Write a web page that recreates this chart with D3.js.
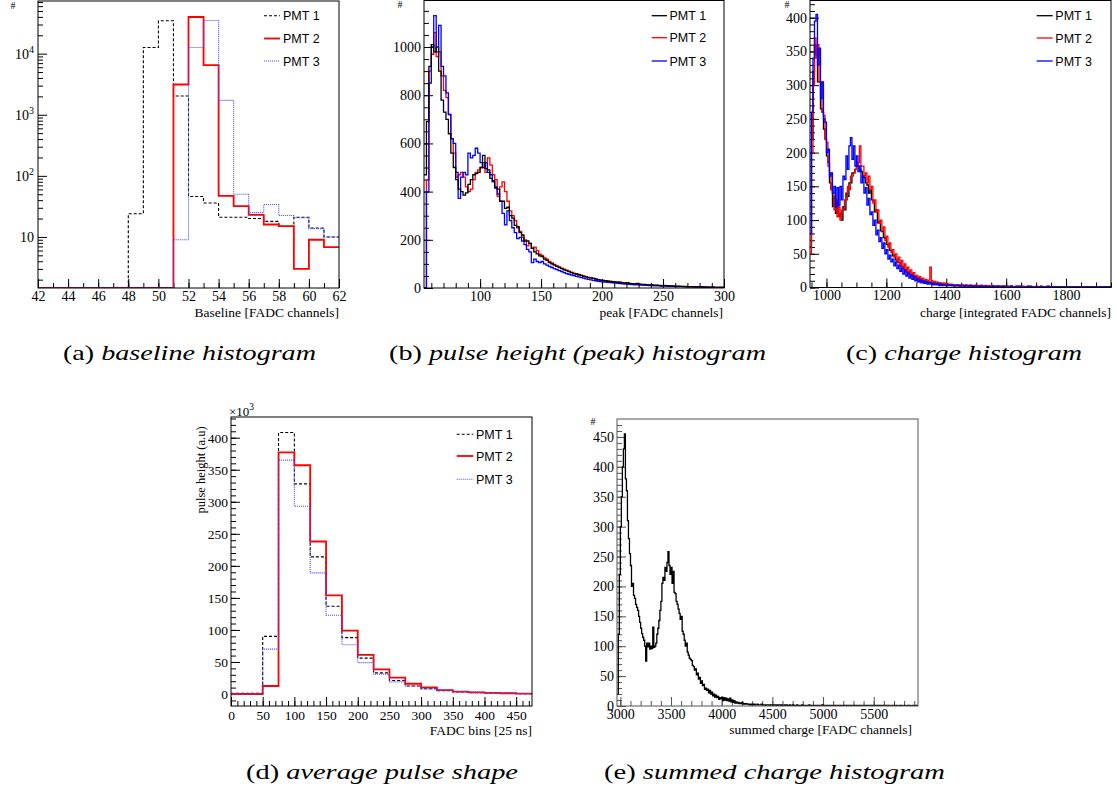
<!DOCTYPE html>
<html><head><meta charset="utf-8">
<script src="https://cdn.jsdelivr.net/npm/d3@7"></script>
<style>body{margin:0;background:#fff} svg{display:block}</style>
</head><body>
<svg id="c" width="1116" height="791"></svg>
<script>
// ---------------- DATA ----------------
const seriesNames = ["PMT 1", "PMT 2", "PMT 3"];

// (a) baseline histogram: bins 42..62, width 1 (log y)
const baseStart = 42, baseWidth = 1;
const basePMT1 = [0,0,0,0,0,0,24,12600,34500,2030,46,36,21,21,20,18,15,21,14,10];
const basePMT2 = [0,0,0,0,0,0,0,0,0,3130,39800,6500,47,32,23,16,15,3,9,6.8];
const basePMT3 = [0,0,0,0,0,0,0,0,0,9,12600,35000,1720,50,25,34,22.5,20.6,13.7,10];

// (b) pulse height (peak) histogram: bins from 54, width 2
const peakStart = 54, peakWidth = 2;
const peakPMT1 = [470,690,920,1010,980,1000,900,780,730,700,
  640,560,500,450,410,400,385,395,430,450,
  470,475,480,500,550,495,490,455,445,415,
  410,360,360,330,335,300,290,260,255,230,
  220,195,195,185,165,150,142,133,130,120,
  115,105,100,95,90,85,80,75,72,68,
  64,60,58,55,52,48,46,43,42,40,
  38,35,33,32,30,28,27,26,25,24,
  22,21,20,22,19,18,17,19,16,15,
  15,14,13,13,12,12,11,10,11,10,
  9,9,8,8,8,7,7,7,6,6,
  6,5,5,5,5,4,4,4,4,3,
  3,3,3];
const peakPMT2 = [0,450,900,970,1060,960,980,880,820,790,
  720,620,560,460,470,480,460,420,400,410,
  450,480,490,500,520,480,540,510,470,450,
  380,420,440,400,360,320,300,280,250,235,
  210,200,175,185,165,170,155,140,135,125,
  120,110,104,98,92,88,82,78,74,70,
  66,62,58,56,52,50,47,44,42,40,
  36,34,33,31,30,28,27,25,24,23,
  25,22,20,19,18,17,16,15,15,14,
  14,13,12,12,11,11,10,10,9,9,
  9,8,8,7,7,7,6,6,6,6,
  5,5,5,5,4,4,4,4,4,3,
  3,3,3];
const peakPMT3 = [0,400,850,1000,1130,980,1090,920,880,810,
  720,620,600,480,372,460,480,470,560,540,
  550,580,560,520,500,520,480,470,440,420,
  390,360,310,262,320,280,250,230,205,210,
  195,180,160,150,105,120,110,105,110,100,
  95,90,85,80,76,72,68,64,60,57,
  54,51,48,46,43,41,38,36,34,32,
  30,28,27,25,24,23,22,21,20,19,
  18,17,16,15,15,14,13,13,12,12,
  11,11,10,10,9,9,9,8,8,8,
  7,7,7,6,6,6,6,5,5,5,
  5,4,4,4,4,4,3,3,3,3,
  3,2,2];

// (c) charge histogram: bins from 945, width 5
const chargeStart = 945, chargeWidth = 5;
const chargePMT1 = [60,220,320,360,345,305,305,265,260,235,
  220,195,185,155,145,120,135,110,125,105,
  110,100,120,115,140,135,155,155,170,170,
  175,180,180,175,172,165,163,155,152,140,
  145,130,128,112,115,96,98,84,83,74,
  73,64,63,55,55,47,48,41,41,37,
  36,31,31,26,27,22,23,18,20,16,
  16,13,14,11,12,9,10,8,9,7,
  8,6,7,5,6,5,6,4,5,4,
  5,4,
  4,4,3,4,3,3,4,3,3,3, 3,2,3,3,2,3,2,2,3,2, 2,2,3,2,2,2,1,2,2,2, 1,2,2,1,2,1,2,1,1,2,
  1,1,2,1,1,1,2,1,1,1, 1,1,1,2,1,1,1,1,1,1, 1,1,2,1,1,1,1,0,1,1, 1,1,1,1,1,0,1,1,1,1,
  0,1,1,1,1,1,0,1,1,0, 1,1,1,1,0,1,1,1,0,1, 1,0,1,1,1,0,1,1,1];
const chargePMT2 = [50,200,300,370,340,360,305,305,260,255,
  220,215,180,170,145,140,115,130,105,120,
  100,115,115,130,130,150,145,165,165,170,
  175,180,185,210,180,180,165,170,155,165,
  145,150,125,130,112,115,95,100,84,90,
  70,76,60,66,52,56,45,50,38,45,
  32,40,28,35,24,30,20,26,16,22,
  13,18,11,16,9,14,8,12,8,11,
  30,10,6,9,5,8,5,7,4,7,
  4,6,
  5,4,5,4,4,3,4,4,3,4, 3,3,4,3,3,3,2,3,3,2, 3,2,3,2,2,3,2,2,2,3, 2,2,1,2,2,2,1,2,2,1,
  2,1,2,1,1,2,1,2,1,1, 2,1,1,1,2,1,1,1,1,2, 1,1,1,1,1,1,2,1,1,1, 1,1,1,1,0,1,1,1,1,1,
  1,0,1,1,1,1,0,1,1,1, 0,1,1,1,1,0,1,1,0,1, 1,1,0,1,1,0,1,1,1];
const chargePMT3 = [80,260,340,395,405,330,355,280,305,250,
  245,200,205,165,170,140,150,118,148,122,
  150,130,165,160,195,175,210,222,190,210,
  180,195,172,180,155,165,140,148,122,132,
  108,112,92,100,78,85,68,74,58,66,
  50,56,42,48,38,42,32,38,28,33,
  24,29,20,26,17,22,14,19,12,17,
  10,14,8,12,7,10,6,9,5,8,
  5,7,4,6,4,6,3,5,3,4,
  3,4,
  3,4,3,3,2,3,3,2,3,2, 2,3,2,2,2,3,2,2,1,2, 2,1,2,2,1,2,1,2,1,1, 2,1,1,2,1,1,1,2,1,1,
  1,1,2,1,1,1,1,1,2,1, 1,1,1,1,1,2,1,1,1,1, 1,1,1,1,1,1,1,2,1,1, 1,1,1,0,1,1,1,1,1,1,
  0,1,1,1,0,1,1,1,1,0, 1,1,0,1,1,1,0,1,1,1, 0,1,1,0,1,1,1,0,1];

// (d) average pulse shape: bins 0..475, width 25 (values x10^3)
const shapeStart = 0, shapeWidth = 25;
const shapePMT1 = [1,1,90,408,328,214,137,88,56,33,21,12.5,8.3,5.2,3.1,2,1.5,1,0.5];
const shapePMT2 = [0,0,12.5,377,357,238,154,99,61,38.5,25.5,16,10.4,6.2,3.6,2.5,1.8,1.2,0.6];
const shapePMT3 = [0,0,70,365,293,189,123,77,49,31,19,12.5,8,6,4,3,2,1.2,0.7];

// (e) summed charge histogram: bins from 2970, width 10
const sumStart = 2970, sumWidth = 10;
const sumCharge = [20,120,220,300,350,400,430,455,380,360,
  310,280,255,235,200,205,185,180,170,165,
  160,150,140,130,121,115,110,100,75,105,
  99,105,95,100,96,132,98,100,105,120,
  130,143,160,175,205,215,210,232,225,240,
  258,235,220,232,205,225,190,188,175,170,
  162,155,145,150,125,120,110,100,105,90,
  85,80,78,76,68,66,60,62,52,55,
  45,48,38,42,34,36,28,30,26,28,
  22,26,20,23,17,20,15,18,14,16,
  11,14,12,15,9,14,10,13,9,12,
  8,13,7,10,6,9,5,7,5,6,
  4,5,4,6,3,4,3,4,3,3,
  2,3,2,3,
  2,3,2,2,3,2,2,2,3,2, 2,2,1,2,2,2,1,2,2,1, 2,2,1,2,1,2,2,1,2,1, 1,2,1,2,1,1,2,1,1,2,
  1,1,1,2,1,1,1,1,2,1, 1,1,1,1,1,2,1,1,1,1, 1,1,1,1,1,1,1,1,2,1, 1,1,1,0,1,1,1,1,1,1,
  0,1,1,1,1,0,1,1,1,0, 1,1,1,0,1,1,0,1,1,1, 0,1,0,1,1,0,1,1,0,1, 0,1,1,0,1,0,1,1,0,1,
  0,1,0,1,0,1,1,0,1,0, 1,0,1,0,1,0,0,1,0,1, 0,1,0,0,1,0,1,0,0,1, 0,0,1,0,1,0,0,1,0,0,
  1,0,1];

// axis tick values
const baseTicks = [42,44,46,48,50,52,54,56,58,60,62];
const peakTicksX = [100,150,200,250,300];
const peakTicksY = [0,200,400,600,800,1000];
const chargeTicksX = [1000,1200,1400,1600,1800];
const chargeTicksY = [0,50,100,150,200,250,300,350,400];
const shapeTicksX = [0,50,100,150,200,250,300,350,400,450];
const shapeTicksY = [0,50,100,150,200,250,300,350,400];
const sumTicksX = [3000,3500,4000,4500,5000,5500];
const sumTicksY = [0,50,100,150,200,250,300,350,400,450];

const captions = [
  {lab:"(a) ", txt:"baseline histogram"},
  {lab:"(b) ", txt:"pulse height (peak) histogram"},
  {lab:"(c) ", txt:"charge histogram"},
  {lab:"(d) ", txt:"average pulse shape"},
  {lab:"(e) ", txt:"summed charge histogram"}
];

// ---------------- DRAWING ----------------
const svg = d3.select('#c');
const SERIF = "Liberation Serif";
const SANS = "Liberation Sans";
let clipId = 0;

function range(a, b, s) { return d3.range(a, b + s * 0.001, s); }

function panel(o) {
  const g = svg.append('g');
  const fs = o.tickFont || 14;
  const x = d3.scaleLinear().domain(o.xDomain).range([o.left, o.right]);
  const y = o.yLog
    ? d3.scaleLog().domain(o.yDomain).range([o.bottom, o.top])
    : d3.scaleLinear().domain(o.yDomain).range([o.bottom, o.top]);

  const ax = g.append('g').attr('transform', `translate(0,${o.bottom})`);
  ax.call(d3.axisBottom(x).tickValues(o.xMinor).tickSizeInner(-5).tickSizeOuter(0).tickFormat(''));
  const axM = g.append('g').attr('transform', `translate(0,${o.bottom})`);
  axM.call(d3.axisBottom(x).tickValues(o.xMajor).tickSizeInner(-9).tickSizeOuter(0)
    .tickPadding(o.xPad || 3).tickFormat(o.xFmt || d3.format('d')));
  const ay = g.append('g').attr('transform', `translate(${o.left},0)`);
  ay.call(d3.axisLeft(y).tickValues(o.yMinor).tickSizeInner(-5).tickSizeOuter(0).tickFormat(''));
  const ayM = g.append('g').attr('transform', `translate(${o.left},0)`);
  ayM.call(d3.axisLeft(y).tickValues(o.yMajor).tickSizeInner(-9).tickSizeOuter(0)
    .tickPadding(3).tickFormat(o.yLog ? () => '' : (o.yFmt || d3.format('d'))));
  [ax, axM, ay, ayM].forEach(a => {
    a.attr('font-family', SERIF).attr('font-size', fs);
    a.select('.domain').remove();
    a.selectAll('line').attr('stroke', o.frameColor || '#000').attr('stroke-width', 1);
    a.selectAll('text').style('font-family', SERIF).style('font-size', fs + 'px').attr('fill', '#000');
  });

  if (o.yLog) {
    o.yMajor.forEach(v => {
      const e = Math.round(Math.log10(v));
      const t = g.append('text').attr('x', o.left - 4).attr('y', y(v) + 5)
        .attr('text-anchor', 'end').style('font-family', SERIF).style('font-size', '14px');
      t.append('tspan').text('10');
      if (e > 1) t.append('tspan').attr('dy', -6).style('font-size', '10px').text(e);
    });
  }

  const cid = 'clip' + (clipId++);
  g.append('clipPath').attr('id', cid).append('rect')
    .attr('x', o.left).attr('y', o.top - 1).attr('width', o.right - o.left).attr('height', o.bottom - o.top + 1);
  const yv = v => o.yLog ? (v > 0 ? y(Math.max(v, o.yDomain[0])) : o.bottom) : y(v);
  const line = d3.line().x(d => x(d[0])).y(d => yv(d[1])).curve(d3.curveStepAfter);
  o.series.forEach(s => {
    const pts = s.values.map((v, i) => [s.start + i * s.width, v]);
    pts.push([s.start + s.values.length * s.width, s.values[s.values.length - 1]]);
    g.append('path').attr('clip-path', `url(#${cid})`).attr('d', line(pts))
      .attr('fill', 'none').attr('stroke', s.color).attr('stroke-width', s.sw || 1.2)
      .attr('stroke-dasharray', s.dash || null).attr('stroke-linejoin', 'miter');
  });

  g.append('rect').attr('x', o.left).attr('y', o.top).attr('width', o.right - o.left)
    .attr('height', o.bottom - o.top).attr('fill', 'none')
    .attr('stroke', o.frameColor || '#000').attr('stroke-width', 1);

  g.append('text').attr('x', o.xTitleRight).attr('y', o.xTitleY).attr('text-anchor', 'end')
    .style('font-family', SERIF).style('font-size', '13.5px').text(o.xTitle);
  if (o.hash) g.append('text').attr('x', o.hash[0]).attr('y', o.hash[1]).attr('text-anchor', 'middle')
    .style('font-family', SERIF).style('font-size', '10px').text('#');

  if (o.legend) {
    o.series.slice().sort((a, b) => a.idx - b.idx).forEach((s, i) => {
      const ly = o.legend.ys[i];
      g.append('line').attr('x1', o.legend.x1).attr('x2', o.legend.x2).attr('y1', ly).attr('y2', ly)
        .attr('stroke', s.color).attr('stroke-width', s.sw || 1.2).attr('stroke-dasharray', s.dash || null);
      g.append('text').attr('x', o.legend.tx).attr('y', ly + 4.5).style('font-family', SANS)
        .style('font-size', '12.5px').text(seriesNames[s.idx]);
    });
  }
  return {g, x, y};
}

const dashStyles = [
  {color: '#000', dash: '3,2', sw: 1.1},
  {color: '#ff0000', dash: null, sw: 1.8},
  {color: '#4646ff', dash: '1,1', sw: 1.1}
];
const solidStyles = [
  {color: '#000', sw: 1.3}, {color: '#ff0000', sw: 1.3}, {color: '#0000ff', sw: 1.3}
];

// (a)
panel({
  left: 38, right: 339, top: 1, bottom: 288,
  xDomain: [42, 62], yDomain: [1.46, 72800], yLog: true,
  xMajor: baseTicks, xMinor: range(42, 62, 1),
  yMajor: [10, 100, 1000, 10000],
  yMinor: [2,3,4,5,6,7,8,9,20,30,40,50,60,70,80,90,200,300,400,500,600,700,800,900,
           2000,3000,4000,5000,6000,7000,8000,9000,20000,30000,40000,50000,60000,70000],
  xTitle: 'Baseline [FADC channels]', xTitleRight: 339, xTitleY: 317, hash: [13, 9],
  series: [
    {idx: 0, start: baseStart, width: baseWidth, values: basePMT1, ...dashStyles[0]},
    {idx: 1, start: baseStart, width: baseWidth, values: basePMT2, ...dashStyles[1]},
    {idx: 2, start: baseStart, width: baseWidth, values: basePMT3, ...dashStyles[2]}
  ],
  legend: {x1: 264, x2: 280, tx: 283, ys: [15.7, 38.5, 61]}
});

// (b)
panel({
  left: 424, right: 724, top: 0.5, bottom: 288,
  xDomain: [54, 300], yDomain: [0, 1193],
  xMajor: peakTicksX, xMinor: range(60, 300, 10),
  yMajor: peakTicksY, yMinor: range(0, 1150, 50),
  xTitle: 'peak [FADC channels]', xTitleRight: 723, xTitleY: 317, hash: [400, 8],
  series: [
    {idx: 1, start: peakStart, width: peakWidth, values: peakPMT2, ...solidStyles[1]},
    {idx: 2, start: peakStart, width: peakWidth, values: peakPMT3, ...solidStyles[2]},
    {idx: 0, start: peakStart, width: peakWidth, values: peakPMT1, ...solidStyles[0]}
  ],
  legend: {x1: 651.7, x2: 667, tx: 669.5, ys: [15.7, 37.7, 61]}
});

// (c)
panel({
  left: 810, right: 1111, top: 0.5, bottom: 287.5,
  xDomain: [945, 1950], yDomain: [0, 425.5],
  xMajor: chargeTicksX, xMinor: range(950, 1950, 50),
  yMajor: chargeTicksY, yMinor: range(0, 420, 10),
  xTitle: 'charge [integrated FADC channels]', xTitleRight: 1111, xTitleY: 317, hash: [787, 8],
  series: [
    {idx: 0, start: chargeStart, width: chargeWidth, values: chargePMT1, ...solidStyles[0]},
    {idx: 1, start: chargeStart, width: chargeWidth, values: chargePMT2, ...solidStyles[1]},
    {idx: 2, start: chargeStart, width: chargeWidth, values: chargePMT3, ...solidStyles[2]}
  ],
  legend: {x1: 1036.7, x2: 1052.7, tx: 1055.3, ys: [15.7, 38, 61]}
});

// (d)
const pd = panel({
  left: 231, right: 532, top: 417, bottom: 706, tickFont: 13.5,
  xDomain: [0, 475], yDomain: [-18.7, 432.3],
  xMajor: shapeTicksX, xMinor: range(0, 470, 10), xPad: 4,
  yMajor: shapeTicksY, yMinor: range(-10, 430, 10),
  xTitle: 'FADC bins [25 ns]', xTitleRight: 532, xTitleY: 735,
  series: [
    {idx: 0, start: shapeStart, width: shapeWidth, values: shapePMT1, ...dashStyles[0]},
    {idx: 1, start: shapeStart, width: shapeWidth, values: shapePMT2, ...dashStyles[1]},
    {idx: 2, start: shapeStart, width: shapeWidth, values: shapePMT3, ...dashStyles[2]}
  ],
  legend: {x1: 456.7, x2: 473.3, tx: 476, ys: [434.3, 456, 479.3]}
});
{
  const t = pd.g.append('text').attr('x', 229).attr('y', 416).style('font-family', SERIF).style('font-size', '13px');
  t.append('tspan').text('\u00d710');
  t.append('tspan').attr('dy', -6).style('font-size', '9.5px').text('3');
  pd.g.append('text').attr('transform', 'translate(205,470) rotate(-90)').attr('text-anchor', 'middle')
    .style('font-family', SERIF).style('font-size', '12.5px').text('pulse height (a.u)');
}

// (e)
panel({
  left: 617, right: 918, top: 419, bottom: 706,
  xDomain: [2967, 5937], yDomain: [0, 480],
  xMajor: sumTicksX, xMinor: range(3000, 5900, 100), xPad: 3,
  yMajor: sumTicksY, yMinor: range(0, 470, 10),
  xTitle: 'summed charge [FADC channels]', xTitleRight: 912, xTitleY: 734, hash: [593, 425],
  frameColor: '#555',
  series: [
    {idx: 0, start: sumStart, width: sumWidth, values: sumCharge, color: '#000', sw: 1.3}
  ]
});

// captions
const capPos = [
  {x0: 63, x1: 316, y: 360}, {x0: 389, x1: 766, y: 360}, {x0: 846, x1: 1082, y: 360},
  {x0: 246, x1: 518, y: 779}, {x0: 604, x1: 945, y: 779}
];
captions.forEach((c, i) => {
  const p = capPos[i];
  const t = svg.append('text').attr('x', p.x0).attr('y', p.y)
    .style('font-family', SERIF).style('font-size', '21px')
    .attr('textLength', p.x1 - p.x0).attr('lengthAdjust', 'spacingAndGlyphs');
  t.append('tspan').text(c.lab);
  t.append('tspan').style('font-style', 'italic').text(c.txt);
});
</script>
</body></html>
